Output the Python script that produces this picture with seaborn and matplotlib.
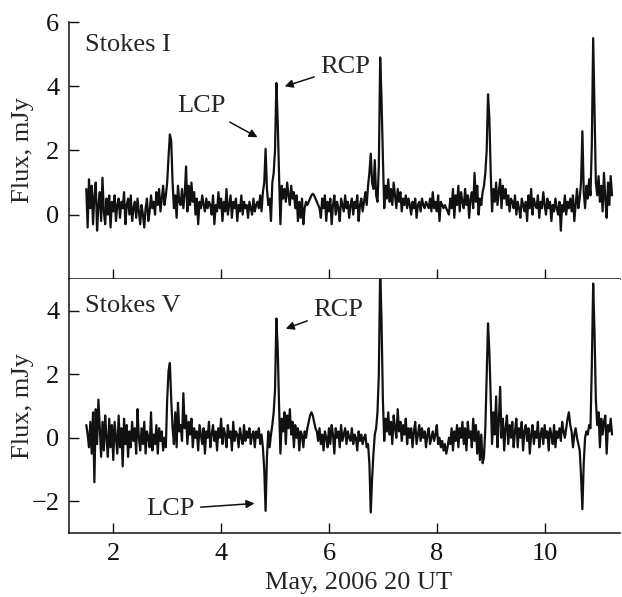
import numpy as np
import pandas as pd
import matplotlib
matplotlib.use('Agg')
import matplotlib.pyplot as plt
import seaborn as sns

# sampling: every 0.025 h from 1.5 to 11.25 (May 2006, 20 UT)
t_start, t_step = 1.5, 0.025

# Stokes I, mJy
stokes_i = [
    0.8, -0.4, 1.1, 0.2, 0.9, -0.3, 0.6, 1.0, -0.5, 0.3, 0.7, -0.2, 1.15, 0.1, -0.3, 0.5, 0.0, 0.6, -0.4, 0.4,
    0.1, 0.6, -0.2, 0.3, 0.5, -0.1, 0.4, 0.2, 0.7, -0.3, 0.3, 0.5, 0.0, 0.6, -0.2, 0.2, 0.4, -0.1, 0.5, 0.1,
    -0.3, 0.3, 0.0, -0.4, 0.2, 0.5, -0.2, 0.1, 0.6, 0.2, 0.4, 0.0, 0.7, 0.3, 0.8, 0.1, 0.5, 0.9, 0.3, 0.6,
    1.0, 1.8, 2.5, 2.3, 1.0, 0.2, 0.6, -0.1, 0.9, 0.4, 0.3, 0.8, 0.2, 0.6, 1.5, 0.1, 0.9, 0.3, 1.0, 0.4,
    0.7, 0.0, 0.5, -0.3, 0.4, 0.2, 0.6, 0.3, 0.1, 0.5, 0.2, 0.4, 0.3, 0.0, 0.6, -0.3, 0.3, 0.1, 0.7, 0.2,
    0.5, -0.2, 0.4, 0.1, 0.8, 0.0, 0.3, 0.6, -0.1, 0.4, 0.2, 0.5, -0.2, 0.3, 0.1, 0.6, 0.0, 0.4, 0.2, 0.3,
    -0.1, 0.4, 0.2, 0.0, 0.5, 0.1, 0.3, 0.4, 0.2, 0.6, 0.1, 0.7, 1.0, 2.05, 0.8, 0.3, 0.5, -0.2, 1.0, 1.3,
    2.0, 4.1, 2.9, 1.2, -0.3, 0.9, 0.5, 0.8, 0.4, 1.0, 0.6, 0.3, 0.9, 0.5, 0.7, 0.2, 0.6, -0.2, 0.4, -0.1,
    0.5, -0.3, 0.2, 0.4, 0.3, 0.4, 0.5, 0.6, 0.65, 0.6, 0.5, 0.4, 0.3, 0.2, -0.1, 0.5, 0.2, 0.6, -0.2, 0.4,
    0.1, 0.5, -0.3, 0.3, 0.6, 0.0, 0.4, 0.2, -0.2, 0.5, 0.3, 0.1, 0.6, 0.2, 0.4, -0.1, 0.3, 0.5, 0.0, 0.4,
    0.2, 0.6, -0.2, 0.3, 0.5, 0.1, 0.4, 0.7, 0.3, 0.9, 1.3, 1.9, 1.0, 0.8, 1.7, 0.6, 0.4, 1.5, 4.9, 3.6,
    1.8, 0.2, 0.9, 0.5, 1.1, 0.4, 0.8, 0.3, 1.0, 0.6, 0.2, 0.8, 0.4, 0.7, 0.1, 0.5, 0.3, 0.6, 0.2, 0.5,
    0.3, 0.0, 0.4, 0.2, 0.5, -0.1, 0.3, 0.4, 0.1, 0.5, 0.3, 0.2, 0.4, 0.3, 0.2, 0.5, 0.1, 0.7, 0.2, 0.4,
    0.1, 0.6, -0.2, 0.4, 0.3, 0.2, 0.3, 0.2, 0.1, 0.0, 0.5, 0.2, 0.8, -0.1, 0.6, 0.3, 0.9, 0.1, 0.7, 0.4,
    0.2, 0.8, 0.3, 0.6, -0.1, 0.5, 0.7, 0.2, 1.3, 0.4, 0.9, 0.0, 0.5, 0.3, 0.7, 0.9, 1.3, 2.0, 3.75, 3.0,
    1.3, 0.1, 0.8, 0.4, 1.0, 0.3, 0.7, 1.1, 0.2, 0.9, 0.5, 0.8, 0.3, 0.6, 0.1, 0.5, 0.4, 0.2, 0.6, 0.0,
    0.4, 0.2, -0.1, 0.5, 0.3, 0.1, 0.4, -0.2, 0.6, 0.2, 0.8, 0.0, 0.5, 0.3, 0.2, 0.6, -0.1, 0.4, 0.2, 0.7,
    0.3, 0.0, 0.5, 0.2, 0.4, -0.2, 0.3, 0.1, 0.5, 0.2, 0.0, 0.4, -0.5, 0.3, 0.1, 0.6, 0.0, 0.4, 0.2, 0.5,
    0.1, 0.6, -0.2, 0.3, 0.8, 0.2, 0.5, 1.0, 2.6, 0.7, 0.2, 0.9, 0.5, 1.1, 0.6, 2.2, 5.5, 3.3, 1.0, 0.6,
    1.2, 0.4, 0.9, 0.1, 1.3, 0.5, -0.1, 1.0, 0.3, 1.2, 0.6,
]

# Stokes V, mJy
stokes_v = [
    0.4, 0.1, -0.3, 0.5, -0.5, 0.8, -1.4, 0.9, -0.2, 1.2, 0.3, -0.6, 0.5, -0.4, 0.7, 0.0, -0.6, 0.6, -0.3, 0.4,
    -0.7, 0.5, 0.0, -0.5, 0.7, -0.3, 0.3, -0.9, 0.6, -0.2, 0.4, -0.6, 0.2, -0.3, 0.5, -0.1, 0.3, -0.5, 0.9, 0.0,
    -0.4, 0.3, -0.2, 0.5, -0.5, 0.2, 0.0, -0.3, 0.8, -0.4, 0.1, -0.2, 0.4, -0.5, 0.3, -0.1, 0.2, -0.4, 0.0, -0.3,
    1.2, 2.1, 2.35, 1.2, 0.3, -0.2, 0.8, -0.3, 1.1, 0.2, 0.4, -0.1, 1.4, 0.3, 0.7, -0.2, 0.5, 0.1, 0.6, -0.3,
    0.3, 0.0, 0.2, -0.4, 0.4, 0.1, -0.2, 0.3, -0.5, 0.2, 0.0, 0.5, -0.3, 0.1, 0.4, -0.1, 0.2, -0.4, 0.3, 0.0,
    0.6, -0.2, 0.3, 0.1, -0.3, 0.4, 0.0, 0.2, -0.4, 0.5, -0.1, 0.2, 0.1, -0.3, 0.3, 0.0, -0.2, 0.4, -0.1, 0.2,
    0.0, 0.3, -0.2, 0.1, 0.2, -0.3, 0.2, 0.0, 0.3, -0.2, 0.1, -0.3, -1.0, -2.3, -0.6, 0.2, -0.3, 0.1, 0.4, 0.8,
    1.5, 3.75, 2.8, 1.0, -0.5, 0.6, 0.2, 0.8, -0.2, 0.7, 0.3, 0.9, 0.1, 0.5, -0.3, 0.4, 0.0, 0.3, -0.4, 0.2,
    0.1, -0.3, 0.2, 0.0, 0.3, 0.5, 0.7, 0.8, 0.7, 0.5, 0.3, 0.2, -0.1, 0.3, -0.2, 0.1, -0.4, 0.2, 0.0, -0.3,
    0.3, -0.2, 0.4, 0.1, -0.5, 0.3, 0.0, 0.2, -0.3, 0.4, -0.1, 0.1, 0.3, -0.2, 0.2, 0.0, -0.1, 0.3, -0.2, 0.1,
    0.0, -0.4, 0.2, -0.1, 0.1, -0.2, 0.0, 0.1, -0.3, -0.2, -0.8, -2.35, -1.3, -0.5, 0.1, 0.3, 0.8, 2.0, 5.3, 3.7,
    1.2, -0.1, 0.6, 0.2, 0.8, 0.1, 0.5, -0.2, 0.7, 0.3, 0.0, 0.9, 0.2, 0.5, -0.1, 0.4, 0.1, 0.6, -0.2, 0.3,
    0.0, 0.3, -0.3, 0.2, 0.5, -0.2, 0.1, 0.4, -0.1, 0.3, 0.0, 0.2, -0.3, 0.1, 0.3, -0.2, 0.0, 0.2, -0.1, 0.1,
    0.4, -0.2, 0.0, -0.3, -0.1, -0.4, -0.2, -0.5, -0.3, 0.0, -0.2, 0.3, -0.4, 0.2, -0.1, 0.4, -0.3, 0.3, 0.0, 0.5,
    -0.2, 0.3, -0.4, 0.5, 0.0, 0.2, -0.3, 0.6, -0.1, 0.4, -0.5, 0.2, -0.7, 0.1, -0.8, -0.6, 0.3, 2.0, 3.6, 2.7,
    1.2, -0.2, 0.8, 0.1, 1.3, -0.3, 0.5, 1.6, 0.0, 0.6, -0.4, 0.3, 0.7, -0.2, 0.4, 0.0, 0.5, -0.3, 0.2, 0.6,
    -0.3, 0.3, 0.0, 0.5, -0.4, 0.2, 0.4, -0.1, 0.3, -0.5, 0.1, 0.4, -0.2, 0.2, 0.0, 0.5, -0.3, 0.1, 0.3, -0.2,
    0.4, 0.0, 0.2, -0.4, 0.3, 0.1, -0.2, 0.4, -0.3, 0.2, 0.0, 0.3, -0.1, 0.5, 0.2, 0.0, 0.3, 0.6, 0.8, 0.4,
    0.2, -0.3, 0.1, 0.3, 0.0, -0.2, -0.4, -1.2, -2.25, -0.8, 0.0, 0.2, 0.1, 0.4, 0.3, 2.3, 4.85, 3.3, 1.2, 0.4,
    0.8, -0.3, 0.6, 0.1, 0.5, 0.7, -0.5, 0.4, 0.2, 0.6, 0.1,
]

time = t_start + t_step * np.arange(len(stokes_i))
df = pd.DataFrame({'time': time, 'I': stokes_i, 'V': stokes_v})

sns.set_style('ticks')
plt.rcParams['font.family'] = ['Liberation Serif', 'DejaVu Serif']
plt.rcParams['font.size'] = 19

fig = plt.figure(figsize=(6.22, 5.97), dpi=100)
ax1 = fig.add_axes([0.111, 0.533, 0.886, 0.430])
ax2 = fig.add_axes([0.111, 0.107, 0.886, 0.426])

sns.lineplot(data=df, x='time', y='I', ax=ax1, color='#111111', lw=1.6)
sns.lineplot(data=df, x='time', y='V', ax=ax2, color='#111111', lw=1.6)

for ax in (ax1, ax2):
    ax.set_xlim(1.18, 11.4)
    ax.set_xticks([2, 4, 6, 8, 10])
    ax.tick_params(direction='in', length=7, width=1, labelsize=19, colors='#111111', pad=7)
    for s in ('top', 'right'):
        ax.spines[s].set_visible(False)
    for s in ('left', 'bottom'):
        ax.spines[s].set_linewidth(1.1)
        ax.spines[s].set_color('#111111')
    ax.set_ylabel('Flux, mJy', fontsize=19)

ax1.set_ylim(-2, 6)
ax1.set_yticks([0, 2, 4, 6])
ax1.tick_params(labelbottom=False)
ax1.set_xlabel('')

ax2.set_ylim(-3, 5)
ax2.set_yticks([-2, 0, 2, 4])
ax2.set_yticklabels(['\u22122', '0', '2', '4'])
ax2.set_xlabel('May, 2006 20 UT', fontsize=19)
ax2.xaxis.set_label_coords(0.526, -0.152)

ax1.yaxis.set_label_coords(-0.063, 0.5)
ax2.yaxis.set_label_coords(-0.063, 0.5)

arrow = dict(arrowstyle='-|>', color='#111111', lw=1.1, mutation_scale=12)

ax1.text(1.48, 5.3, 'Stokes I', va='center', ha='left', fontsize=19)
ax1.annotate('LCP', xy=(4.72, 2.37), xytext=(3.63, 3.37), ha='center', va='center',
             fontsize=19, arrowprops=arrow)
ax1.annotate('RCP', xy=(5.13, 3.97), xytext=(6.3, 4.6), ha='center', va='center',
             fontsize=19, arrowprops=arrow)

ax2.text(1.48, 4.16, 'Stokes V', va='center', ha='left', fontsize=19)
ax2.annotate('RCP', xy=(5.15, 3.4), xytext=(6.17, 4.03), ha='center', va='center',
             fontsize=19, arrowprops=arrow)
ax2.annotate('LCP', xy=(4.67, -2.06), xytext=(3.06, -2.25), ha='center', va='center',
             fontsize=19, arrowprops=arrow)

fig.savefig('out.png', dpi=100)
